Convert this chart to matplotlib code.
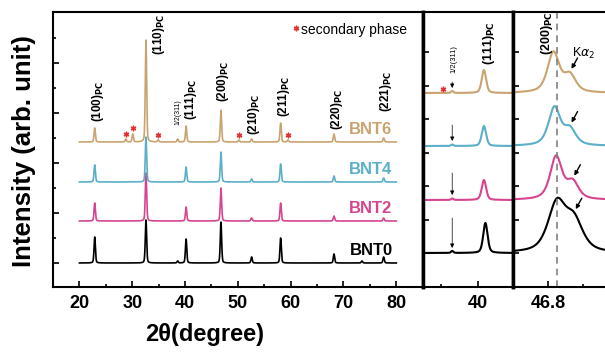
import numpy as np
import matplotlib
matplotlib.use('Agg')
import matplotlib.pyplot as plt

plt.rcParams['font.family'] = ['Liberation Sans', 'DejaVu Sans']

samples = ['BNT0', 'BNT2', 'BNT4', 'BNT6']
colors = ['black', '#D6458F', '#5BAFC8', '#C9A470']

# main panel: wide scan, baseline offset and (position, height) of each peak
main_base = [24, 66, 105, 145]
main_peaks = [
    [(22.9, 26), (32.6, 43), (38.6, 2), (40.2, 24), (46.8, 41), (52.6, 6),
     (58.1, 25), (68.2, 9), (73.5, 2), (77.6, 6)],
    [(22.9, 18), (32.6, 48), (40.2, 14), (46.8, 33), (52.6, 3), (58.1, 18),
     (68.2, 5), (77.6, 3)],
    [(22.9, 17), (32.6, 45), (40.2, 15), (46.8, 30), (52.6, 3), (58.1, 18),
     (68.2, 6), (77.6, 4)],
    [(22.9, 14), (28.8, 3), (30.1, 8), (32.6, 102), (34.9, 2), (38.6, 3),
     (40.2, 16), (46.8, 32), (50.2, 2), (52.6, 3), (58.1, 19), (59.5, 2),
     (68.2, 8), (77.6, 4)],
]
sec_phase = [(28.8, 153), (30.1, 159), (34.9, 152), (50.2, 152), (59.5, 152)]

hkl_labels = ['(100)', '(110)', '(111)', '(200)', '(210)', '(211)', '(220)', '(221)']
hkl_x = [23.6, 35.0, 41.2, 47.1, 53.1, 58.8, 68.7, 78.1]
hkl_y = [165, 232, 167, 185, 152, 170, 157, 175]

# middle panel: (111) region
mid_base = [34, 87, 141, 194]
mid_peak_pos = [40.40, 40.32, 40.32, 40.32]
mid_peak_h = [30, 20, 20, 23]
half_pos = 38.6
half_h = [2, 1.5, 1.5, 2]
arrow_top = [69, 114, 162, 205]

# right panel: (200) region, K-alpha1 and K-alpha2
right_base = [34, 87, 141, 194]
ka1_pos = [46.862, 46.857, 46.845, 46.838]
ka1_h = [48, 43, 38, 40]
ka2_pos = [46.985, 46.975, 46.955, 46.955]
ka2_h = [30, 17, 16, 17]
right_fwhm = [0.15, 0.10, 0.10, 0.10]


def pv(x, c, h, w, eta=0.5):
    g = np.exp(-4 * np.log(2) * ((x - c) / w) ** 2)
    l = 1 / (1 + 4 * ((x - c) / w) ** 2)
    return h * (eta * l + (1 - eta) * g)


fig = plt.figure(figsize=(6.05, 3.54), dpi=100)
ax1 = fig.add_axes([0.0876, 0.1893, 0.6111, 0.7768])
ax2 = fig.add_axes([0.6987, 0.1893, 0.1493, 0.7768])
ax3 = fig.add_axes([0.8480, 0.1893, 0.1530, 0.7768])

# ---- main panel
x = np.linspace(20, 80, 3000)
for i in range(4):
    y = np.full_like(x, main_base[i], dtype=float)
    for c, h in main_peaks[i]:
        y += pv(x, c, h, 0.3, 0.3)
    ax1.plot(x, y, color=colors[i], lw=1.2)
    ax1.text(79.3, main_base[i] + 12, samples[i], color=colors[i],
             fontsize=12, fontweight='bold', ha='right', va='center')

for (sx, sy) in sec_phase:
    ax1.plot(sx, sy, marker=(6, 2, 0), color='#E03030', ms=4, mew=1)
ax1.plot(61.0, 259, marker=(6, 2, 0), color='#E03030', ms=4, mew=1)
ax1.text(62.0, 257, 'secondary phase', fontsize=10, va='center')

for lab, lx, ly in zip(hkl_labels, hkl_x, hkl_y):
    ax1.text(lx, ly, lab + r'$_{\mathbf{PC}}$', rotation=90, fontsize=8.5,
             fontweight='bold', ha='center', va='bottom')
ax1.text(38.6, 162, '1/2(311)', rotation=90, fontsize=5,
         ha='center', va='bottom')

ax1.set_xlim(15, 85)
ax1.set_ylim(0, 275)
ax1.set_xticks([20, 30, 40, 50, 60, 70, 80])
ax1.set_xticks([25, 35, 45, 55, 65, 75], minor=True)
ax1.set_yticks([24, 74, 124, 174, 224])
ax1.set_yticks([49, 99, 149, 199, 249], minor=True)
ax1.set_yticklabels([])

# ---- middle panel
x2 = np.linspace(37, 42, 800)
for i in range(4):
    y = np.full_like(x2, mid_base[i], dtype=float)
    y += pv(x2, mid_peak_pos[i], mid_peak_h[i], 0.28, 0.4)
    y += pv(x2, half_pos, half_h[i], 0.15, 0.4)
    ax2.plot(x2, y, color=colors[i], lw=1.5)
    ax2.annotate('', xy=(half_pos, mid_base[i] + 5), xytext=(half_pos, arrow_top[i]),
                 arrowprops=dict(arrowstyle='-|>', color='black', lw=0.5,
                                 mutation_scale=6, shrinkA=0, shrinkB=0))
ax2.plot(38.1, 198, marker=(6, 2, 0), color='#E03030', ms=4, mew=1)
ax2.text(38.72, 214, '1/2(311)', rotation=90, fontsize=5.5,
         ha='center', va='bottom')
ax2.text(40.6, 222, r'(111)$_{\mathbf{PC}}$', rotation=90, fontsize=9,
         fontweight='bold', ha='center', va='bottom')
ax2.set_xlim(37, 41.9)
ax2.set_ylim(0, 275)
ax2.set_xticks([40])
ax2.set_xticks([38], minor=True)
ax2.set_yticks([34, 67, 101, 134, 168, 201, 235])
ax2.set_yticklabels([])

# ---- right panel
x3 = np.linspace(46.5, 47.3, 800)
for i in range(4):
    y = np.full_like(x3, right_base[i], dtype=float)
    y += pv(x3, ka1_pos[i], ka1_h[i], right_fwhm[i], 0.6)
    y += pv(x3, ka2_pos[i], ka2_h[i], right_fwhm[i], 0.6)
    ax3.plot(x3, y, color=colors[i], lw=1.5)
    ysh = right_base[i] + pv(ka2_pos[i], ka1_pos[i], ka1_h[i], right_fwhm[i], 0.6) + ka2_h[i]
    ax3.annotate('', xy=(ka2_pos[i] + 0.012, ysh + 3), xytext=(ka2_pos[i] + 0.055, ysh + 14),
                 arrowprops=dict(arrowstyle='-|>', color='black', lw=1.0,
                                 mutation_scale=6, shrinkA=0, shrinkB=0))
ax3.axvline(46.864, color='gray', ls=(0, (4, 3)), lw=1.2)
ax3.text(46.793, 232, r'(200)$_{\mathbf{PC}}$', rotation=90, fontsize=9,
         fontweight='bold', ha='center', va='bottom')
ax3.text(47.05, 234, r'K$\alpha_2$', fontsize=9, ha='center', va='center')
ax3.set_xlim(46.55, 47.21)
ax3.set_ylim(0, 275)
ax3.set_xticks([46.8])
ax3.set_xticklabels(['46.8'])
ax3.set_xticks([47.05], minor=True)
ax3.set_yticks([34, 67, 101, 134, 168, 201, 235])
ax3.set_yticklabels([])
ax3.spines['right'].set_visible(False)

for ax in (ax1, ax2, ax3):
    for s in ax.spines.values():
        s.set_linewidth(1.5)
    ax.tick_params(which='both', direction='in', top=False, right=False,
                   labelsize=13, pad=6, width=1.2)
    ax.tick_params(which='major', length=4)
    ax.tick_params(which='minor', length=2)
    for t in ax.get_xticklabels():
        t.set_fontweight('bold')
ax1.spines['right'].set_linewidth(2.5)
ax2.spines['left'].set_linewidth(2.5)
ax2.spines['right'].set_linewidth(2.5)
ax3.spines['left'].set_linewidth(2.5)

fig.text(0.040, 0.573, 'Intensity (arb. unit)', rotation=90, fontsize=18.5,
         fontweight='bold', ha='center', va='center')
fig.text(0.339, 0.054, '2θ(degree)', fontsize=17, fontweight='bold',
         ha='center', va='center')

fig.savefig('out.png', dpi=100)
